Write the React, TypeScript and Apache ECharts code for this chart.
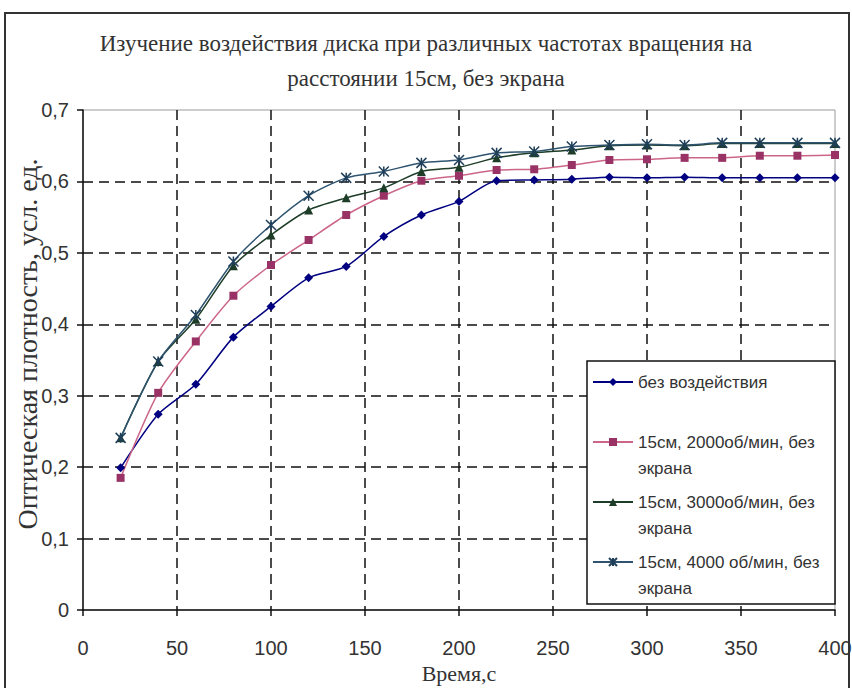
import React, { useEffect, useRef } from "react";
import * as echarts from "echarts";

const titleText = "Изучение воздействия диска при различных частотах вращения на\nрасстоянии 15см, без экрана";
const xAxisName = "Время,с";
const yAxisName = "Оптическая плотность, усл. ед.";

const times = [20, 40, 60, 80, 100, 120, 140, 160, 180, 200, 220, 240, 260, 280, 300, 320, 340, 360, 380, 400];

const seriesNames = [
  "без воздействия",
  "15см, 2000об/мин, без экрана",
  "15см, 3000об/мин, без экрана",
  "15см, 4000 об/мин, без экрана",
];
const legendLines: Record<string, string> = {
  "без воздействия": "\nбез воздействия\n ",
  "15см, 2000об/мин, без экрана": "\n15см, 2000об/мин, без\nэкрана",
  "15см, 3000об/мин, без экрана": "\n15см, 3000об/мин, без\nэкрана",
  "15см, 4000 об/мин, без экрана": "\n15см, 4000 об/мин, без\nэкрана",
};

const noEffect = [0.199, 0.274, 0.316, 0.382, 0.425, 0.465, 0.481, 0.523, 0.553, 0.572, 0.601, 0.602, 0.603, 0.606, 0.605, 0.606, 0.605, 0.605, 0.605, 0.605];
const rpm2000 = [0.185, 0.304, 0.376, 0.44, 0.483, 0.518, 0.553, 0.58, 0.601, 0.608, 0.616, 0.617, 0.623, 0.63, 0.631, 0.633, 0.633, 0.636, 0.636, 0.637];
const rpm3000 = [0.241, 0.348, 0.407, 0.482, 0.525, 0.56, 0.577, 0.591, 0.614, 0.62, 0.633, 0.64, 0.644, 0.65, 0.651, 0.65, 0.653, 0.653, 0.653, 0.653];
const rpm4000 = [0.241, 0.348, 0.413, 0.488, 0.539, 0.58, 0.605, 0.614, 0.626, 0.63, 0.64, 0.642, 0.649, 0.651, 0.652, 0.651, 0.654, 0.654, 0.654, 0.654];

const sansFont = '"Liberation Sans", Arial, sans-serif';
const serifFont = '"Liberation Serif", "Times New Roman", serif';

const pair = (vals: number[]) => vals.map((v, i) => [times[i], v]);

export default function App() {
  const ref = useRef<HTMLDivElement>(null);
  useEffect(() => {
    if (!ref.current) return;
    const chart = echarts.init(ref.current, undefined, { renderer: "svg" });
    const dashed = { show: true, showMinLine: false, showMaxLine: false, lineStyle: { color: "#111", type: [10, 6], width: 1.5 } };
    chart.setOption({
      animation: false,
      backgroundColor: "#fff",
      title: {
        text: titleText,
        left: "center",
        top: 26,
        padding: 0,
        textStyle: { fontFamily: serifFont, fontWeight: "normal", fontSize: 23, color: "#333", lineHeight: 35 },
      },
      grid: {
        left: 83,
        right: 17,
        top: 110,
        bottom: 78,
        outerBoundsMode: "none",
        containLabel: false,
        show: true,
        borderColor: "#999",
        borderWidth: 1,
        backgroundColor: "transparent",
      },
      legend: {
        orient: "vertical",
        left: 592,
        top: 343,
        padding: 0,
        itemGap: -18,
        itemWidth: 40,
        itemHeight: 10,
        data: seriesNames,
        formatter: (name: string) => legendLines[name] ?? name,
        textStyle: { fontFamily: sansFont, fontSize: 17, color: "#333", lineHeight: 26 },
      },
      xAxis: {
        type: "value",
        min: 0,
        max: 400,
        interval: 50,
        name: xAxisName,
        nameLocation: "middle",
        nameGap: 52,
        nameMoveOverlap: false,
        nameTextStyle: { fontFamily: serifFont, fontSize: 22, color: "#333" },
        axisLine: { show: true, onZero: false, lineStyle: { color: "#111", width: 1.5 } },
        axisTick: { show: true, length: 6, lineStyle: { color: "#111", width: 1.5 } },
        axisLabel: { fontFamily: sansFont, fontSize: 20, color: "#333", margin: 28 },
        splitLine: dashed,
      },
      yAxis: {
        type: "value",
        min: 0,
        max: 0.7,
        interval: 0.1,
        name: yAxisName,
        nameLocation: "middle",
        nameRotate: 90,
        nameGap: 42,
        nameMoveOverlap: false,
        nameTextStyle: { fontFamily: serifFont, fontSize: 28, color: "#333", padding: [0, 0, 0, 32] },
        axisLine: { show: true, lineStyle: { color: "#111", width: 1.5 } },
        axisTick: { show: true, length: 6, lineStyle: { color: "#111", width: 1.5 } },
        axisLabel: {
          fontFamily: sansFont,
          fontSize: 20,
          color: "#333",
          margin: 14,
          formatter: (v: number) => (Math.round(v * 10) / 10).toString().replace(".", ","),
        },
        splitLine: dashed,
      },
      graphic: {
        elements: [
          { type: "polyline", z: 10, shape: { points: [[5, 700], [5, 13], [849, 13], [849, 700]] }, style: { fill: "none", stroke: "#333", lineWidth: 2 } },
          { type: "rect", z: 3, shape: { x: 587, y: 361, width: 248, height: 243 }, style: { fill: "#fff", stroke: "#111", lineWidth: 1.5 } },
        ],
      },
      series: [
        {
          name: seriesNames[0],
          type: "line",
          data: pair(noEffect),
          smooth: 0.25,
          symbol: "diamond",
          symbolSize: 9,
          color: "#000080",
          itemStyle: { color: "#000080" },
          lineStyle: { color: "#000080", width: 1.5 },
        },
        {
          name: seriesNames[1],
          type: "line",
          data: pair(rpm2000),
          smooth: 0.25,
          symbol: "rect",
          symbolSize: 8,
          color: "#993366",
          itemStyle: { color: "#993366" },
          lineStyle: { color: "#CC6688", width: 1.5 },
        },
        {
          name: seriesNames[2],
          type: "line",
          data: pair(rpm3000),
          smooth: 0.25,
          symbol: "triangle",
          symbolSize: 9,
          color: "#1E3D28",
          itemStyle: { color: "#1E3D28" },
          lineStyle: { color: "#1E3D28", width: 1.5 },
        },
        {
          name: seriesNames[3],
          type: "line",
          data: pair(rpm4000),
          smooth: 0.25,
          symbol: "path://M0,0L10,10M10,0L0,10M5,0L5,10",
          symbolSize: 10,
          color: "#2E5470",
          itemStyle: { color: "#2E5470", borderColor: "#1F3F5A", borderWidth: 1.5 },
          lineStyle: { color: "#2E5470", width: 1.5 },
        },
      ],
    });
    return () => chart.dispose();
  }, []);
  return <div ref={ref} style={{ position: "fixed", left: 0, top: 0, width: 852, height: 688 }} />;
}
